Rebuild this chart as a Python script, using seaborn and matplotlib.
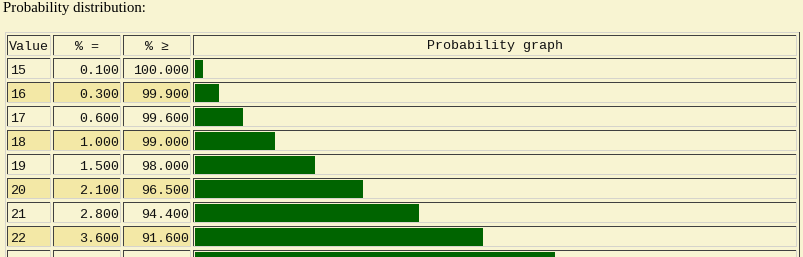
import matplotlib
matplotlib.use("Agg")
import matplotlib.pyplot as plt
from matplotlib.patches import Rectangle
import seaborn as sns
import pandas as pd

# ---- data ----
values = [15, 16, 17, 18, 19, 20, 21, 22, 23]
pct_eq = [0.1, 0.3, 0.6, 1.0, 1.5, 2.1, 2.8, 3.6, 4.5]
pct_ge = [100.0, 99.9, 99.6, 99.0, 98.0, 96.5, 94.4, 91.6, 88.0]
headers = ["Value", "% =", "% ≥", "Probability graph"]
title = "Probability distribution:"

# ---- style ----
BG = "#F8F4D2"
DARKROW = "#F3E8A6"
DARK = "#404040"
LIGHT = "#D6D4CC"
GREEN = "#006400"
W, H = 804, 257

sns.set_theme(style="white")
plt.rcParams["font.family"] = ["Liberation Mono", "DejaVu Sans Mono"]

fig = plt.figure(figsize=(W / 100, H / 100), dpi=100, facecolor=BG)
ax = fig.add_axes([0, 0, 1, 1])
ax.set_xlim(0, W)
ax.set_ylim(H, 0)
ax.axis("off")
ax.set_facecolor(BG)

def rect(x0, y0, x1, y1, color):
    ax.add_patch(Rectangle((x0, y0), x1 - x0, y1 - y0, facecolor=color,
                           edgecolor="none", linewidth=0, antialiased=False))

def cell(L, T, R, B, fill):
    # inset border: top/left dark, bottom/right light (pixel indices inclusive)
    rect(L, T, R + 1, B + 1, LIGHT)
    rect(L + 1, T + 1, R, B, fill)
    rect(L, T, R, T + 1, DARK)
    rect(L, T, L + 1, B, DARK)

# outer table border (outset)
rect(5, 32, 800, 33, LIGHT)
rect(5, 32, 6, H, LIGHT)
rect(799, 32, 800, H, DARK)

cols = [(7, 50), (53, 120), (123, 190), (193, 796)]

# header
HT, HB = 35, 55
for (L, R) in cols:
    cell(L, HT, R, HB, BG)
fs = 9.6
tc = "#111111"
hb = 49.5
ax.text(9, hb, headers[0], ha="left", va="baseline", fontsize=fs, color=tc)
ax.text(87, hb, headers[1], ha="center", va="baseline", fontsize=fs, color=tc)
ax.text(157, hb, headers[2], ha="center", va="baseline", fontsize=fs, color=tc)
ax.text(495, hb, headers[3], ha="center", va="baseline", fontsize=fs, color=tc)

# rows
for k, (v, pe, pg) in enumerate(zip(values, pct_eq, pct_ge)):
    T = 58 + 24 * k
    B = T + 20
    fill = DARKROW if k % 2 == 1 else BG
    for i, (L, R) in enumerate(cols):
        cell(L, T, R, B, fill if i < 3 else BG)
    base = T + 15.5
    if base - 9 < H - 1:  # text of rows below the visible area is not shown
        ax.text(10, base, str(v), ha="left", va="baseline", fontsize=fs, color=tc)
        ax.text(119, base, f"{pe:.3f}", ha="right", va="baseline", fontsize=fs, color=tc)
        ax.text(189, base, f"{pg:.3f}", ha="right", va="baseline", fontsize=fs, color=tc)

# title
ax.text(3, 11.8, title, ha="left", va="baseline", fontsize=10.7,
        family=["Liberation Serif", "DejaVu Serif"], color="black")

# ---- bars via seaborn ----
df = pd.DataFrame({"value": [str(v) for v in values], "pct": pct_eq})
n = len(values)
top_px = 57
bot_px = top_px + 24 * n
gax = fig.add_axes([195 / W, (H - bot_px) / H, 600 / W, (24 * n) / H])
sns.barplot(data=df, x="pct", y="value", orient="h", color=GREEN, saturation=1,
            width=0.75, linewidth=0, errorbar=None, ax=gax)
gax.set_xlim(0, 7.5)
gax.set_ylim(n - 0.5, -0.5)
gax.patch.set_alpha(0)
gax.axis("off")

fig.savefig("out.png", dpi=100, facecolor=BG)
